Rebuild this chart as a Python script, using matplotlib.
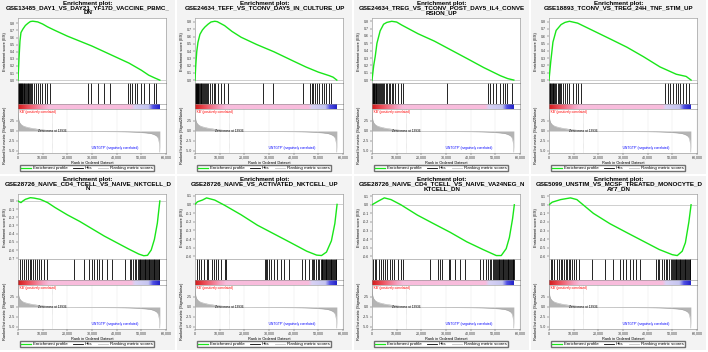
import matplotlib
matplotlib.use("Agg")
import matplotlib.pyplot as plt
import numpy as np
from matplotlib.colors import LinearSegmentedColormap
from matplotlib.lines import Line2D
from matplotlib.patches import Rectangle
from matplotlib.ticker import FuncFormatter, MultipleLocator

plt.rcParams['font.family'] = ['Liberation Sans', 'DejaVu Sans']

W, H = 708, 352

# ---- panel titles ----
titles = [
    "GSE13485_DAY1_VS_DAY21_YF17D_VACCINE_PBMC_\nDN",
    "GSE24634_TEFF_VS_TCONV_DAY5_IN_CULTURE_UP",
    "GSE24634_TREG_VS_TCONV_POST_DAY5_IL4_CONVE\nRSION_UP",
    "GSE18893_TCONV_VS_TREG_24H_TNF_STIM_UP",
    "GSE28726_NAIVE_CD4_TCELL_VS_NAIVE_NKTCELL_D\nN",
    "GSE28726_NAIVE_VS_ACTIVATED_NKTCELL_UP",
    "GSE28726_NAIVE_CD4_TCELL_VS_NAIVE_VA24NEG_N\nKTCELL_DN",
    "GSE5099_UNSTIM_VS_MCSF_TREATED_MONOCYTE_D\nAY7_DN",
]

# ---- running enrichment score (rank in thousands, ES) ----
es1_rank = [0, 0.4, 0.8, 1.2, 2.0, 3.0, 4.0, 5.0, 6.0, 8.0, 10, 12, 15, 20, 25, 30, 35, 40, 45, 50, 53, 55.5, 57.5]
es1_val = [0, 0.30, 0.55, 0.67, 0.72, 0.77, 0.80, 0.825, 0.83, 0.82, 0.79, 0.75, 0.70, 0.62, 0.55, 0.48, 0.40, 0.32, 0.24, 0.14, 0.07, 0.03, 0.0]
es2_rank = [0, 0.3, 0.7, 1.2, 2.0, 3.0, 4.0, 5.3, 6.5, 8.0, 9.0, 12, 15, 18.7, 25, 32, 40, 45, 50, 54.5, 56, 57.5]
es2_val = [0, 0.20, 0.39, 0.52, 0.63, 0.69, 0.73, 0.77, 0.80, 0.81, 0.805, 0.75, 0.67, 0.59, 0.49, 0.39, 0.26, 0.18, 0.11, 0.06, 0.04, 0.0]
es3_rank = [0, 0.7, 1.3, 2.0, 3.3, 4.7, 6.0, 8.0, 10, 12, 18.7, 25.3, 32, 38.7, 45.3, 52, 55, 57.5]
es3_val = [0, 0.20, 0.32, 0.50, 0.67, 0.76, 0.785, 0.80, 0.79, 0.75, 0.63, 0.53, 0.41, 0.29, 0.17, 0.06, 0.02, 0.0]
es4_rank = [0, 0.7, 1.6, 2.9, 4.9, 6.5, 8.3, 11.6, 18.3, 25, 31.6, 38.3, 45, 51.6, 55.6, 57.6]
es4_val = [0, 0.25, 0.52, 0.68, 0.76, 0.79, 0.805, 0.78, 0.67, 0.56, 0.45, 0.32, 0.18, 0.08, 0.05, 0.0]
es5_rank = [0, 0.5, 1.2, 2, 3, 5, 6.5, 9, 12, 15, 20, 25, 30, 35, 40, 45, 49, 51, 52.5, 54, 55.3, 56.5, 57.2, 57.5]
es5_val = [0, -0.01, -0.02, 0.0, 0.02, 0.04, 0.035, 0.02, -0.02, -0.08, -0.17, -0.25, -0.34, -0.43, -0.51, -0.59, -0.65, -0.67, -0.665, -0.6, -0.47, -0.27, -0.08, 0.0]
es6_rank = [0, 1, 3, 4.7, 8, 12, 18.7, 25.3, 32, 38.7, 45.3, 49.3, 51.3, 53.3, 55.3, 56.7, 57.6]
es6_val = [0, 0.03, 0.05, 0.075, 0.05, -0.01, -0.12, -0.24, -0.34, -0.44, -0.54, -0.585, -0.59, -0.55, -0.42, -0.22, 0.0]
es7_rank = [0, 2.4, 5, 7.7, 11.7, 18.4, 25, 31.7, 38.4, 45, 50.4, 52.4, 54.4, 55.7, 57, 57.7]
es7_val = [0, 0.04, 0.08, 0.06, 0.0, -0.12, -0.22, -0.32, -0.43, -0.52, -0.59, -0.59, -0.51, -0.38, -0.16, 0.0]
es8_rank = [0, 1.3, 4.7, 8.7, 11.3, 18, 24.7, 31.3, 38, 44.7, 50, 52, 54, 55.3, 56.7, 57.6]
es8_val = [0, 0.03, 0.06, 0.08, 0.06, -0.1, -0.22, -0.32, -0.42, -0.52, -0.58, -0.59, -0.54, -0.44, -0.2, 0.0]

# ---- gene set hits (rank in thousands) ----
hits1 = [0.1, 0.3, 0.5, 0.7, 0.9, 1.1, 1.3, 1.5, 1.8, 2.0, 2.3, 2.6, 2.9, 3.2, 3.5, 3.9, 4.2, 4.6, 5.0, 5.4, 5.7,
         6.4, 7.1, 8.1, 9.1, 9.7, 10.8, 11.7, 13.1, 28.4, 29.7, 32.4, 34.8, 37.1,
         44.7, 45.5, 46.4, 47.3, 48.4, 50.0, 51.1, 53.1, 55.1, 56.1]
hits2 = [0.1, 0.3, 0.5, 0.7, 0.9, 1.1, 1.4, 1.7, 2.0, 2.3, 2.6, 2.9, 3.3, 3.7, 4.1, 4.5, 4.9, 5.3,
         6.0, 6.9, 7.7, 8.3, 9.3, 10.7, 11.7, 13.3, 27.7, 31.7, 43.7,
         46.7, 47.3, 48.0, 48.7, 49.3, 50.3, 51.3, 52.3, 53.3, 54.4, 55.3]
hits3 = [0.1, 0.3, 0.5, 0.7, 0.9, 1.2, 1.5, 1.8, 2.1, 2.4, 2.8, 3.2, 3.6, 4.0, 4.5, 5.0, 5.5, 6.1, 6.7,
         7.3, 8.0, 8.7, 9.3, 10.7, 11.7, 12.7, 30.4,
         47.0, 48.0, 49.0, 50.4, 52.0, 53.0, 54.0, 54.7, 56.7]
hits4 = [0.1, 0.3, 0.6, 0.9, 1.2, 1.5, 1.8, 2.2, 2.6, 3.0, 3.5, 4.0, 4.5, 5.0, 5.6,
         6.5, 7.3, 8.3, 9.6, 10.9, 11.9, 13.0,
         46.9, 48.3, 49.2, 50.3, 51.3, 52.3, 53.2, 54.5, 55.6, 56.7]
hits5 = [0.7, 1.6, 2.4, 3.3, 4.0, 4.7, 5.3, 6.0, 6.7, 7.7, 8.7, 9.3, 10.7, 11.7,
         22.7, 26.9, 28.7, 30.0, 30.7, 32.0, 32.7, 34.0, 36.0, 38.0,
         43.3, 45.3, 46.0, 46.7, 47.3, 48.0, 48.7, 49.0, 49.3, 49.6, 50.0, 50.3, 50.6, 51.0, 51.3, 51.6,
         52.0, 52.3, 52.6, 53.0, 53.3, 53.6, 54.0, 54.3, 54.6, 55.0, 55.3, 55.6, 56.0, 56.3, 56.6, 57.0, 57.3]
hits6 = [0.7, 1.6, 2.4, 3.7, 4.7, 5.3, 6.7, 7.7, 8.7, 9.3, 10.7, 12.0, 12.7,
         28.3, 28.8, 29.3, 30.0, 30.9, 32.0, 33.3, 34.7, 36.0, 38.0,
         43.3, 44.7, 46.4, 47.3, 47.8, 48.4, 49.0, 49.7, 50.4, 51.0, 51.3, 51.6, 52.0, 52.3, 52.6, 53.0,
         53.3, 53.6, 54.0, 54.3, 54.6, 55.0, 55.3, 55.6, 56.0, 56.3, 56.6, 57.0, 57.3]
hits7 = [0.4, 1.1, 1.7, 2.7, 3.5, 4.4, 5.1, 6.1, 7.1, 8.0, 9.1, 10.4, 11.7, 12.7,
         23.7, 26.7, 27.7, 28.4, 31.1, 31.7, 33.7, 35.7, 37.7,
         43.7, 45.1, 46.4, 47.0, 47.7, 48.4, 49.0, 49.6, 50.0, 50.3, 50.6, 51.0, 51.3, 51.6, 52.0, 52.3,
         52.6, 53.0, 53.3, 53.6, 54.0, 54.3, 54.6, 55.0, 55.3, 55.6, 56.0, 56.3, 56.6, 57.0, 57.3, 57.6]
hits8 = [0.7, 1.3, 2.0, 3.1, 4.0, 4.7, 5.3, 6.0, 6.7, 7.3, 8.0, 8.7, 9.3, 10.0, 11.1, 12.0,
         17.3, 22.7, 26.0, 28.7, 30.0, 31.3, 32.7, 34.0, 35.3, 36.7,
         43.3, 44.0, 44.7, 46.0, 46.7, 47.3, 48.0, 48.7, 49.3, 50.0, 50.3, 50.6, 51.0, 51.3, 51.6, 52.0,
         52.3, 52.6, 53.0, 53.3, 53.6, 54.0, 54.3, 54.6, 55.0, 55.3, 55.6, 56.0, 56.3, 56.6, 57.0, 57.3]

# ---- ranked list metric (shared by all panels) ----
metric_rank = [0, 0.1, 0.3, 0.6, 1.0, 1.5, 2.0, 3.0, 4.0, 5.0, 6.5, 8.0, 10.0, 12.0, 13.9, 20, 30, 40, 45,
               48, 50, 52, 54, 55, 56, 56.6, 57.0, 57.3, 57.5]
metric_val = [5.2, 3.8, 2.8, 2.2, 1.8, 1.5, 1.3, 1.05, 0.9, 0.75, 0.6, 0.45, 0.3, 0.15, 0.0, -0.05, -0.1, -0.15,
              -0.22, -0.3, -0.38, -0.48, -0.65, -0.85, -1.15, -1.5, -2.1, -3.1, -5.3]
zero_cross = 13936

# colour bar under the hits (rank in thousands -> colour)
bar_pos = [0, 4, 10, 12.5, 46, 47.5, 53, 54.8, 57.5]
bar_col = ['#d41c1c', '#ec4f5a', '#f5a0c0', '#f8bcdc', '#f8bcdc', '#d8d2f4', '#c4c4f0', '#5050e4', '#2424c8']

es_ranks = [es1_rank, es2_rank, es3_rank, es4_rank, es5_rank, es6_rank, es7_rank, es8_rank]
es_vals = [es1_val, es2_val, es3_val, es4_val, es5_val, es6_val, es7_val, es8_val]
hits_all = [hits1, hits2, hits3, hits4, hits5, hits6, hits7, hits8]

fig = plt.figure(figsize=(W / 100, H / 100), dpi=100)
fig.patch.set_facecolor('white')

bar_cmap = LinearSegmentedColormap.from_list(
    'gsea', list(zip(np.array(bar_pos) / bar_pos[-1], bar_col)))


def add_ax(ox, oy, l, t, r, b):
    return fig.add_axes([(ox + l) / W, 1 - (oy + b) / H, (r - l) / W, (b - t) / H])


def frame(ax):
    for s in ax.spines.values():
        s.set_color('#8a8a8a')
        s.set_linewidth(0.4)
    ax.tick_params(labelsize=2.6, length=1.2, width=0.3, pad=0.8, colors='#333333')


GREEN = '#19e619'
L, R = 18, 166

for i in range(8):
    ox = [0, 177, 354, 531][i % 4]
    oy = [0, 176][i // 4]

    # panel background
    fig.patches.append(Rectangle((ox / W, 1 - (oy + 174) / H), 175 / W, 174 / H,
                                 transform=fig.transFigure, facecolor='#f3f3f3',
                                 edgecolor='none', zorder=-5))

    fig.text((ox + 88) / W, 1 - (oy + 0.5) / H, "Enrichment plot:\n" + titles[i],
             ha='center', va='top', fontsize=4.5, fontweight='bold', linespacing=0.95)

    # enrichment score
    ax = add_ax(ox, oy, L, 18, R, 83)
    x = np.array(es_ranks[i]) * 1000
    y = np.array(es_vals[i])
    ax.axhline(0, color='#c8c8c8', lw=0.6, zorder=1)
    ax.plot(x, y, color=GREEN, lw=1.0, zorder=3)
    ax.set_xlim(0, 60000)
    ax.set_ylim(min(y.min(), 0) - 0.04, max(y.max(), 0) + 0.045)
    ax.yaxis.set_major_locator(MultipleLocator(0.1))
    ax.yaxis.set_major_formatter(FuncFormatter(lambda v, p: f"{v:.1f}"))
    ax.set_xticks([])
    frame(ax)

    # hits
    axh = add_ax(ox, oy, L, 83, R, 104)
    axh.vlines(np.array(hits_all[i]) * 1000, 0, 1, color='black', lw=0.6)
    axh.set_xlim(0, 60000)
    axh.set_ylim(0, 1)
    axh.set_xticks([])
    axh.set_yticks([])
    frame(axh)

    # colour bar
    axb = add_ax(ox, oy, L, 104, R, 109)
    axb.imshow(np.linspace(0, 1, 400)[None, :], aspect='auto', cmap=bar_cmap,
               extent=(0, bar_pos[-1] * 1000, 0, 1))
    axb.set_xlim(0, 60000)
    axb.set_ylim(0, 1)
    axb.set_xticks([])
    axb.set_yticks([])
    frame(axb)

    # ranked list metric
    axr = add_ax(ox, oy, L, 109, R, 153)
    mx = np.array(metric_rank) * 1000
    axr.fill_between(mx, metric_val, 0, color='#b4b4b4', lw=0)
    axr.plot(mx, metric_val, color='#a0a0a0', lw=0.3)
    axr.axvline(zero_cross, color='#c0c0c0', lw=0.4, ls=(0, (1, 1)))
    axr.set_xlim(0, 60000)
    axr.set_ylim(-5.5, 5.5)
    axr.set_yticks([2.5, 0.0, -2.5, -5.0])
    axr.yaxis.set_major_formatter(FuncFormatter(lambda v, p: f"{v:.1f}"))
    axr.set_xticks(np.arange(0, 60001, 10000))
    axr.xaxis.set_major_formatter(FuncFormatter(lambda v, p: f"{v:,.0f}"))
    axr.grid(axis='x', color='#e4e4e4', lw=0.3)
    frame(axr)
    axr.text(zero_cross, 0, f"Zero cross at {zero_cross}", fontsize=2.3, ha='center', va='center')
    axr.text(600, 5.2, "'KB' (positively correlated)", fontsize=2.3, color='red', va='top')
    axr.text(39000, -4.3, "'UNTGTP' (negatively correlated)", fontsize=2.3, color='blue', ha='center',
             va='center')
    axr.set_xlabel("Rank in Ordered Dataset", fontsize=2.8, labelpad=0.8)

    fig.text((ox + 5) / W, 1 - (oy + 52) / H, "Enrichment score (ES)", rotation=90,
             fontsize=2.8, ha='center', va='center')
    fig.text((ox + 5) / W, 1 - (oy + 135) / H, "Ranked list metric (Signal2Noise)", rotation=90,
             fontsize=2.8, ha='center', va='center')

    handles = [Line2D([], [], color=GREEN, lw=0.9),
               Line2D([], [], color='black', lw=0.6),
               Line2D([], [], color='#c0c0c0', lw=0.6)]
    fig.legend(handles, ["Enrichment profile", "Hits", "Ranking metric scores"],
               loc='center', bbox_to_anchor=((ox + 87) / W, 1 - (oy + 168) / H),
               ncol=3, fontsize=3.2, frameon=True, fancybox=False, edgecolor='#707070',
               framealpha=1, handlelength=2.2, columnspacing=1.3, handletextpad=0.4,
               borderpad=0.25)

fig.savefig("out.png", dpi=100)
